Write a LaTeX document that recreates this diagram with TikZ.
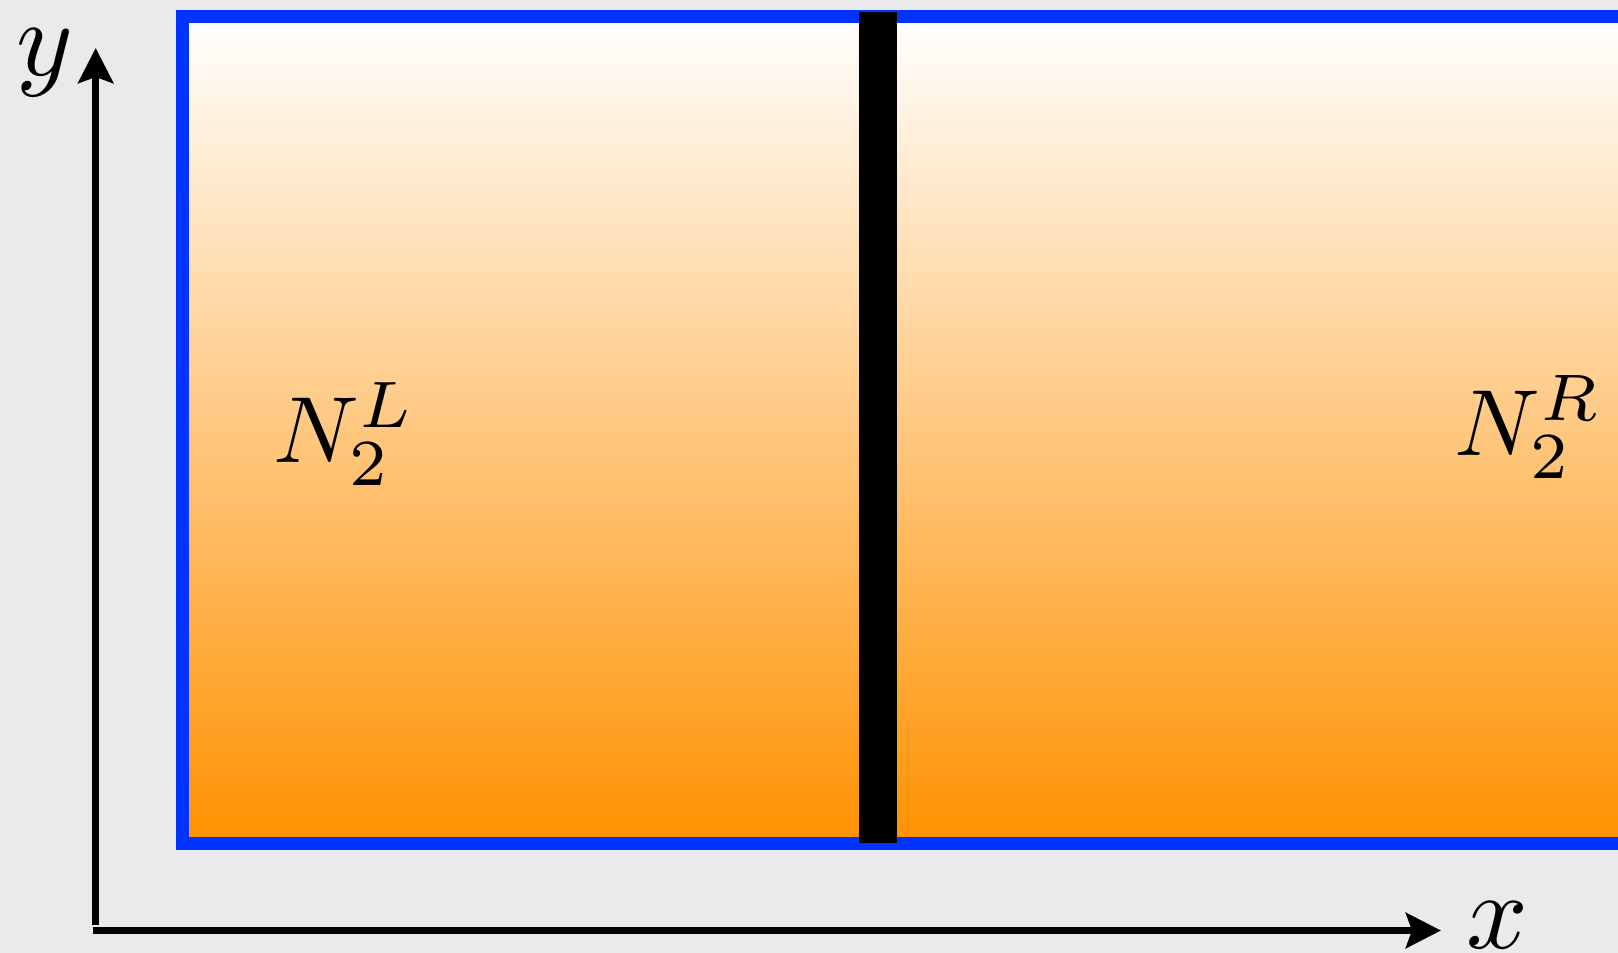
\documentclass[tikz,border=0pt]{standalone}
\usetikzlibrary{arrows.meta}
\definecolor{bgc}{HTML}{EAEAEA}
\definecolor{framec}{HTML}{0033FF}
\definecolor{orangec}{HTML}{FF9100}
\tikzset{
  axis/.style={line width=7.5pt, -{Stealth[length=35pt,width=35pt,inset=6pt]}},
  biglabel/.style={inner sep=0pt, scale=9.4, transform shape, anchor=base west},
  axlabel/.style={inner sep=0pt, scale=10.8, transform shape, anchor=base west},
}
\begin{document}
\begin{tikzpicture}[x=1pt,y=-1pt]
\useasboundingbox (0,0) rectangle (1618,953);
\clip (0,0) rectangle (1618,953);
\fill[bgc] (0,0) rectangle (1618,953);
% container
\shade[top color=white, bottom color=orangec] (182.5,16.5) rectangle (1700,843.5);
\draw[framec, line width=13pt] (182.5,16.5) rectangle (1700,843.5);
% wall
\fill[black] (859,12) rectangle (897,843);
% labels
\node[biglabel] (nl) at (272,462) {$N_2^L$};
\node[biglabel] (nr) at (1453,455) {$N_2^R$};
% axes
\coordinate (yb) at (95.7,925);
\coordinate (yt) at (95.7,48);
\coordinate (xb) at (93,930.5);
\coordinate (xt) at (1441,930.5);
\draw[axis] (yb) -- (yt);
\draw[axis] (xb) -- (xt);
\node[axlabel] (xl) at (1464,948) {$x$};
\node[axlabel] (yl) at (14,75) {$y$};
\end{tikzpicture}
\end{document}
